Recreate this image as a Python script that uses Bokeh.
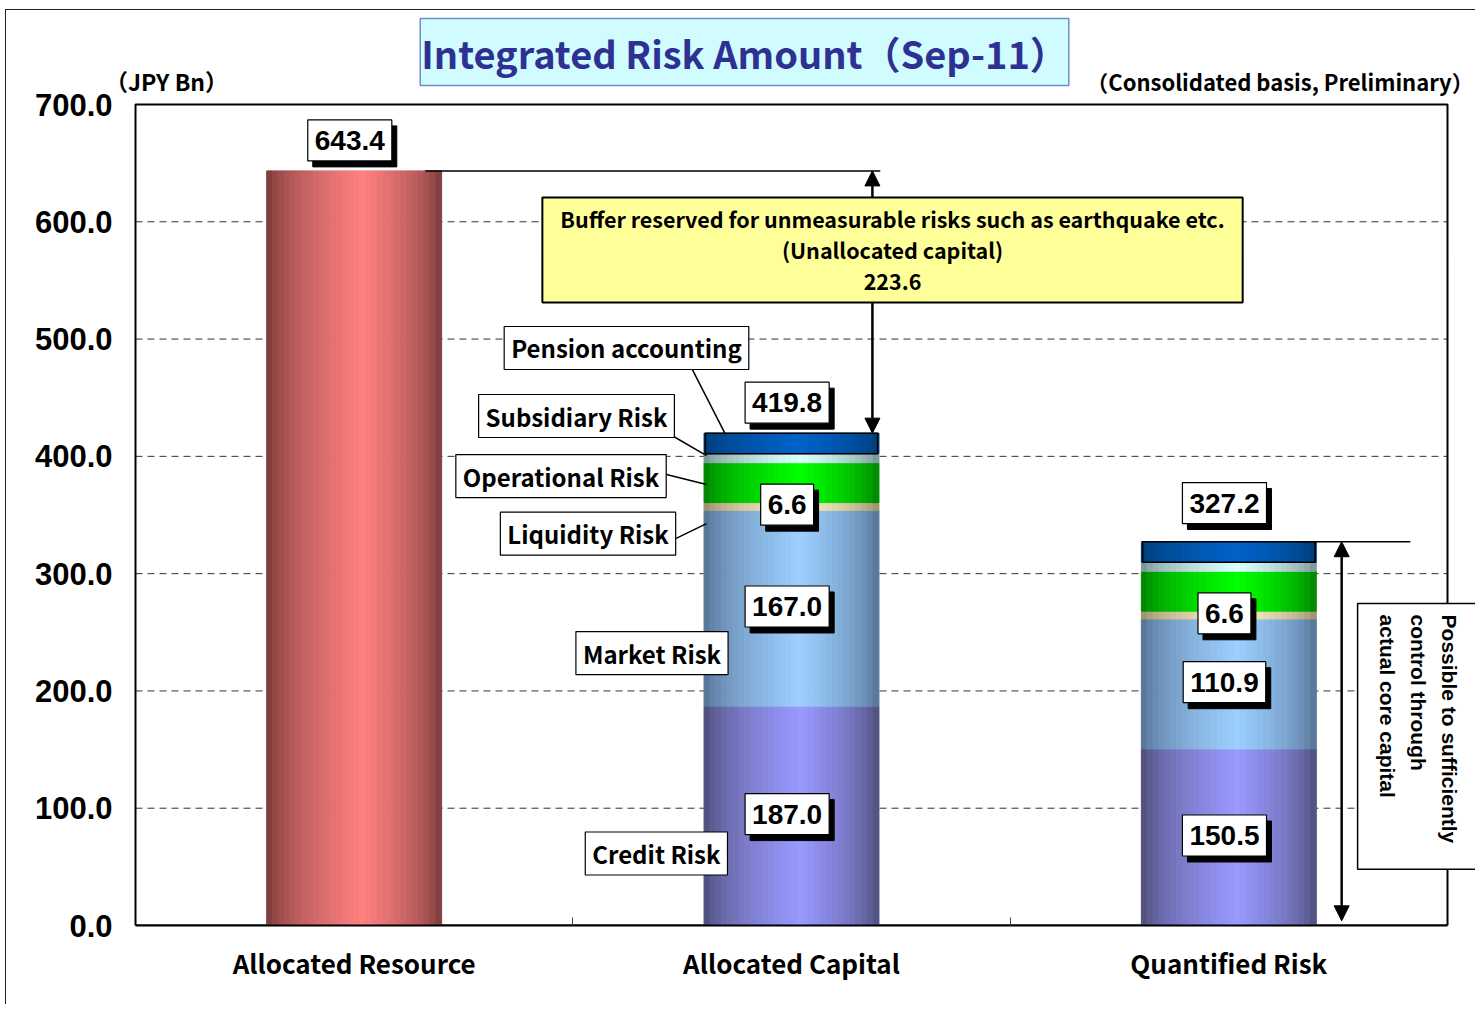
import math
from bokeh.plotting import figure
from bokeh.models import Range1d, FixedTicker, PrintfTickFormatter, Label, Arrow, NormalHead
from bokeh.embed import file_html
from bokeh.resources import INLINE

# ---------------- data ----------------
categories = ["Allocated Resource", "Allocated Capital", "Quantified Risk"]
allocated_resource = 643.4
risk_types = ["Credit Risk", "Market Risk", "Liquidity Risk",
              "Operational Risk", "Subsidiary Risk", "Pension accounting"]
allocated_capital = [187.0, 167.0, 6.6, 34.0, 7.7, 17.5]
quantified_risk = [150.5, 110.9, 6.6, 34.0, 7.7, 17.5]
capital_total = 419.8
quantified_total = 327.2
labeled_risks = ["Credit Risk", "Market Risk", "Liquidity Risk"]
y_ticks = [0, 100, 200, 300, 400, 500, 600, 700]
X_MAX, Y_MAX = 3, 700

# ---------------- styles / layout ----------------
NARROW = "Noto Sans CJK JP"
SANS = "Liberation Sans"
resource_colors = ("#6c3434", "#ff8080")
risk_colors = {
    "Credit Risk": ("#46466c", "#9999ff"),
    "Market Risk": ("#4e6888", "#9ccfff"),
    "Liquidity Risk": ("#8c8462", "#fff2c4"),
    "Operational Risk": ("#007400", "#00ff00"),
    "Subsidiary Risk": ("#6c8888", "#dcffff"),
    "Pension accounting": ("#00386e", "#0062c8"),
}
BAR_W = 0.4
N_STRIPS = 30
LABEL_NUDGE = -0.01

# page geometry (pixels): canvas origin, borders and the plot-area rectangle
W, H = 1470, 995
OX, OY = 6, 10
MB_L, MB_R, MB_T, MB_B = 109, 0, 0, 80
PL, PR, PT, PB = 135, 1447, 104, 925
fl, fr, ft, fb = OX + MB_L, OX + W - MB_R, OY + MB_T, OY + H - MB_B
sx = (PR - PL) / X_MAX
sy = (PB - PT) / Y_MAX
x_range = Range1d(-(PL - fl) / sx, X_MAX + (fr - PR) / sx)
y_range = Range1d(0, Y_MAX + (PT - ft) / sy)


def hex2rgb(h):
    return tuple(int(h[i:i + 2], 16) for i in (1, 3, 5))


def gradient(dark, light, n=N_STRIPS, peak=0.55):
    d, l = hex2rgb(dark), hex2rgb(light)
    out = []
    for i in range(n):
        t = (i + 0.5) / n
        s = t / peak if t < peak else (1 - t) / (1 - peak)
        s = s ** 0.55
        out.append("#%02x%02x%02x" % tuple(int(round(d[k] + (l[k] - d[k]) * s)) for k in range(3)))
    return out


p = figure(width=W, height=H, output_backend="svg", toolbar_location=None,
           x_range=x_range, y_range=y_range, title=None,
           min_border_left=MB_L, min_border_right=MB_R, min_border_top=MB_T, min_border_bottom=MB_B,
           background_fill_color="white", border_fill_color="white",
           outline_line_color=None)
p.styles = {"margin-left": "5px", "margin-top": "9px",
            "border-left": "1px solid #222", "border-top": "1px solid #222"}

# x axis
p.xaxis.bounds = (0, X_MAX)
p.xaxis.ticker = FixedTicker(ticks=[i + 0.5 for i in range(len(categories))],
                             minor_ticks=[float(i) for i in range(1, len(categories))])
p.xaxis.major_label_overrides = {i + 0.5: c for i, c in enumerate(categories)}
p.xaxis.major_tick_line_color = None
p.xaxis.minor_tick_in = 8
p.xaxis.minor_tick_out = 0
p.xaxis.minor_tick_line_color = "#444444"
p.xaxis.axis_line_color = "black"
p.xaxis.axis_line_width = 2
p.xaxis.major_label_standoff = 12
p.xaxis.major_label_text_font = NARROW
p.xaxis.major_label_text_font_style = "bold"
p.xaxis.major_label_text_font_size = "26px"
p.xaxis.major_label_text_color = "black"

# y axis (its line is the left edge of the plot-area frame drawn below)
p.yaxis.ticker = FixedTicker(ticks=y_ticks, minor_ticks=[])
p.yaxis.formatter = PrintfTickFormatter(format="%.1f")
p.yaxis.major_tick_in = 0
p.yaxis.major_tick_out = 0
p.yaxis.minor_tick_line_color = None
p.yaxis.axis_line_color = None
p.yaxis.major_label_standoff = 23 - (PL - fl)
p.yaxis.major_label_text_font = SANS
p.yaxis.major_label_text_font_style = "bold"
p.yaxis.major_label_text_font_size = "31px"
p.yaxis.major_label_text_color = "black"

p.xgrid.grid_line_color = None
p.ygrid.grid_line_color = None

# grid lines and plot-area frame
inner = [t for t in y_ticks if 0 < t < Y_MAX]
p.segment(x0=[0] * len(inner), x1=[X_MAX] * len(inner), y0=inner, y1=inner,
          line_color="#333333", line_dash="7 5", line_width=1)
p.quad(left=[0], right=[X_MAX], bottom=[0], top=[Y_MAX], fill_color=None,
       line_color="black", line_width=2)

# ---------------- bars (gradient strips) ----------------
L, R, B, T, C = [], [], [], [], []


def add_segment(center, bottom, top, colors):
    n = len(colors)
    for i, col in enumerate(colors):
        L.append(center - BAR_W / 2 + i * BAR_W / n)
        R.append(center - BAR_W / 2 + (i + 1) * BAR_W / n)
        B.append(bottom)
        T.append(top)
        C.append(col)


centers = [i + 0.5 for i in range(len(categories))]
add_segment(centers[0], 0, allocated_resource, gradient(*resource_colors))

seg_bounds = {}
for ci, values in ((1, allocated_capital), (2, quantified_risk)):
    bottom = 0.0
    for name, v in zip(risk_types, values):
        add_segment(centers[ci], bottom, bottom + v, gradient(*risk_colors[name]))
        seg_bounds[(ci, name)] = (bottom, bottom + v)
        bottom += v

p.quad(left=L, right=R, bottom=B, top=T, fill_color=C, line_color=C, line_width=1)

# pension outline
pen = [seg_bounds[(1, "Pension accounting")], seg_bounds[(2, "Pension accounting")]]
p.quad(left=[centers[1] - BAR_W / 2 + 0.003, centers[2] - BAR_W / 2 + 0.003],
       right=[centers[1] + BAR_W / 2 - 0.003, centers[2] + BAR_W / 2 - 0.003],
       bottom=[b for b, t in pen], top=[t for b, t in pen],
       fill_color=None, line_color="black", line_width=1.5)


# ---------------- labels ----------------
def boxed(x, y, text, size, font=NARROW, shadow=False, pad=None, style="bold"):
    pad = pad or dict(left=7, right=7, top=11, bottom=11)
    if shadow:
        p.add_layout(Label(x=x, y=y, text=text, x_offset=5, y_offset=-6,
                           text_align="center", text_baseline="middle",
                           text_font=font, text_font_size=size, text_font_style=style,
                           text_color="black", background_fill_color="black",
                           border_line_color="black", padding=pad))
    p.add_layout(Label(x=x, y=y, text=text, text_align="center", text_baseline="middle",
                       text_font=font, text_font_size=size, text_font_style=style,
                       text_color="black", background_fill_color="white",
                       border_line_color="black", border_line_width=1.2, padding=pad))


# totals
boxed(centers[0] + LABEL_NUDGE, allocated_resource + 26, f"{allocated_resource:.1f}", "28px", font=SANS, shadow=True)
boxed(centers[1] + LABEL_NUDGE, capital_total + 26, f"{capital_total:.1f}", "28px", font=SANS, shadow=True)
boxed(centers[2] + LABEL_NUDGE, quantified_total + 33, f"{quantified_total:.1f}", "28px", font=SANS, shadow=True)

# segment values
for ci in (1, 2):
    values = allocated_capital if ci == 1 else quantified_risk
    for name, v in zip(risk_types, values):
        if name in labeled_risks:
            b, t = seg_bounds[(ci, name)]
            boxed(centers[ci] + LABEL_NUDGE, (b + t) / 2 + 1.5, f"{v:.1f}", "28px", font=SANS, shadow=True)

# risk-type name boxes and leader lines (positions relative to Allocated Capital bar)
name_pos = {
    "Pension accounting": (1.1227, 492.4),
    "Subsidiary Risk": (1.0084, 434.4),
    "Operational Risk": (0.973, 383.2),
    "Liquidity Risk": (1.0347, 334.2),
    "Market Risk": (1.181, 232.3),
    "Credit Risk": (1.191, 61.4),
}
for name, (x, y) in name_pos.items():
    boxed(x, y, name, "24px", pad=dict(left=7, right=7, top=4, bottom=4))

leaders = {
    "Pension accounting": (1.269, 477.2, 1.349, 418.8),
    "Subsidiary Risk": (1.2188, 419.5, 1.3057, 400.7),
    "Operational Risk": (1.205, 385.4, 1.3057, 376.0),
    "Liquidity Risk": (1.2256, 328.2, 1.3057, 342.7),
}
p.segment(x0=[v[0] for v in leaders.values()], y0=[v[1] for v in leaders.values()],
          x1=[v[2] for v in leaders.values()], y1=[v[3] for v in leaders.values()],
          line_color="black", line_width=1.5)

# buffer lines / arrows
p.segment(x0=[0.663, 2.657], y0=[allocated_resource, quantified_total],
          x1=[1.703, 2.915], y1=[allocated_resource, quantified_total],
          line_color="black", line_width=1.5)

head = dict(size=15, fill_color="black", line_color="black")
p.add_layout(Arrow(start=NormalHead(**head), end=NormalHead(**head),
                   x_start=1.685, y_start=capital_total, x_end=1.685, y_end=allocated_resource,
                   line_color="black", line_width=2.5))
p.add_layout(Arrow(start=NormalHead(**head), end=NormalHead(**head),
                   x_start=2.758, y_start=4, x_end=2.758, y_end=quantified_total,
                   line_color="black", line_width=2.5))

buffer = allocated_resource - capital_total
p.add_layout(Label(x=1.731, y=576.0,
                   text=f"Buffer reserved for unmeasurable risks such as earthquake etc.\n(Unallocated capital)\n{buffer:.1f}",
                   text_align="center", text_baseline="middle",
                   text_font=NARROW, text_font_size="21.5px", text_font_style="bold",
                   text_line_height=1.0, text_color="black",
                   background_fill_color="#ffff99", border_line_color="black", border_line_width=2,
                   padding=dict(left=18, right=18, top=6, bottom=6)))

p.add_layout(Label(x=2.938, y=274.5,
                   text="Possible to sufficiently\ncontrol through\nactual core capital",
                   angle=-math.pi / 2, angle_units="rad",
                   text_align="left", text_baseline="middle",
                   text_font=SANS, text_font_size="21px", text_font_style="bold",
                   text_line_height=1.36, text_color="black",
                   background_fill_color="white", border_line_color="black", border_line_width=1.5,
                   padding=dict(left=11, right=26, top=22, bottom=18)))

# title & units
p.add_layout(Label(x=1.3926, y=744.7, text="Integrated Risk Amount（Sep-11）",
                   text_align="center", text_baseline="middle",
                   text_font=NARROW, text_font_size="38px", text_font_style="bold",
                   text_color="#2e3192", background_fill_color="#d0fbff",
                   border_line_color="#6c8ec8", border_line_width=1.5,
                   padding=dict(left=1, right=1, top=6, bottom=6)))
p.add_layout(Label(x=0.0709, y=720.4, text="（JPY Bn）",
                   text_align="center", text_baseline="middle",
                   text_font=NARROW, text_font_size="23px", text_font_style="bold", text_color="black"))
p.add_layout(Label(x=3.06, y=720.4, text="（Consolidated basis, Preliminary）",
                   text_align="right", text_baseline="middle",
                   text_font=NARROW, text_font_size="22px", text_font_style="bold", text_color="black"))

open("out.html", "w").write(file_html(p, INLINE))
